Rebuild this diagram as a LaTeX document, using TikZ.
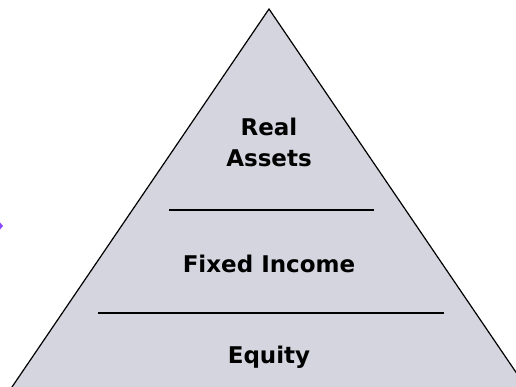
\documentclass[tikz,border=0pt]{standalone}
\usepackage{fontspec}
\setmainfont{DejaVu Sans}
\usepackage{xcolor}
\usetikzlibrary{positioning}
\definecolor{pyrfill}{RGB}{213,213,223}
\definecolor{tipviolet}{RGB}{140,72,255}
\tikzset{%
	layer/.style   = {font=\bfseries\fontsize{23}{31}\selectfont, anchor=base, align=center, inner sep=0pt},
	divider/.style = {line width=1.4pt},
	pyramid/.style = {fill=pyrfill, draw=black, line width=1.2pt},
}

\begin{document}
\begin{tikzpicture}[x=1pt,y=-1pt]
	\useasboundingbox (0,0) rectangle (516,387);
	\begin{scope}
		\clip (0,0) rectangle (516,387);
		\coordinate (apex) at (269,9);
		\coordinate (bl) at (-5,412);
		\coordinate (br) at (543,412);
		\draw[pyramid] (apex) -- (br) -- (bl) -- cycle;
		% small tip cut by the left border
		\fill[tipviolet] (-3,226) -- (0,222.5) -- (3,226) -- (0,229.5) -- cycle;
	\end{scope}
	\node[layer] (real) at (269,136) {Real};
	\node[layer] (assets) at (269,167) {Assets};
	\node[layer] (fixed) at (269,272) {Fixed Income};
	\node[layer] (equity) at (269,363) {Equity};
	\coordinate (d1l) at (169,210);
	\coordinate (d1r) at (374,210);
	\coordinate (d2l) at (98,313);
	\coordinate (d2r) at (444,313);
	\draw[divider] (d1l) -- (d1r);
	\draw[divider] (d2l) -- (d2r);
\end{tikzpicture}
\end{document}
